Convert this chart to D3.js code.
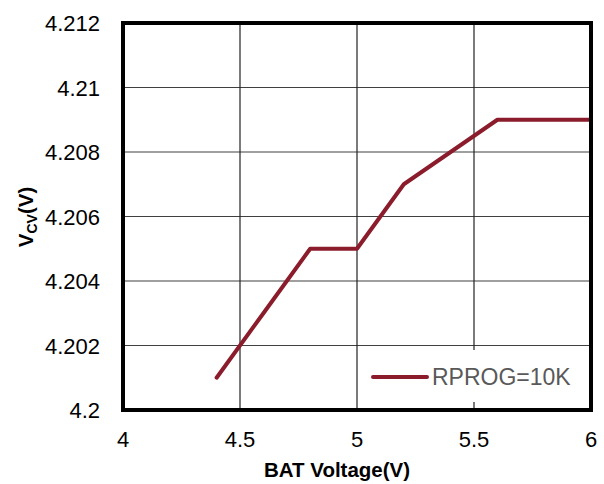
<!DOCTYPE html>
<html><head><meta charset="utf-8">
<script src="https://cdn.jsdelivr.net/npm/d3@7"></script>
<style>body{margin:0;background:#fff}svg{display:block;font-family:"Liberation Sans",Arial,sans-serif}</style>
</head><body><svg id="c" width="604" height="484"></svg>
<script>
const batVoltage = [4.4, 4.6, 4.8, 5.0, 5.2, 5.4, 5.6, 5.8, 6.0];
const vcv = [4.201, 4.203, 4.205, 4.205, 4.207, 4.208, 4.209, 4.209, 4.209];
const xTicks = [4, 4.5, 5, 5.5, 6];
const yTicks = [4.2, 4.202, 4.204, 4.206, 4.208, 4.21, 4.212];
const seriesName = "RPROG=10K";

const svg = d3.select("#c");
const L = 123, R = 591, T = 23, B = 410;
const x = d3.scaleLinear().domain([4, 6]).range([L, R]);
const y = d3.scaleLinear().domain([4.2, 4.212]).range([B, T]);

// grid
svg.append("g").selectAll("line").data(yTicks.slice(1, -1)).join("line")
  .attr("x1", L).attr("x2", R).attr("y1", d => y(d)).attr("y2", d => y(d))
  .attr("stroke", "#404040").attr("stroke-width", 1.2);
svg.append("g").selectAll("line").data(xTicks.slice(1, -1)).join("line")
  .attr("y1", T).attr("y2", B).attr("x1", d => x(d)).attr("x2", d => x(d))
  .attr("stroke", "#222").attr("stroke-width", 1.2);

// data line
const line = d3.line().x((d, i) => x(batVoltage[i])).y(d => y(d));
svg.append("path").datum(vcv).attr("d", line).attr("fill", "none")
  .attr("stroke", "#8B1C2C").attr("stroke-width", 4).attr("stroke-linejoin", "round").attr("stroke-linecap", "round");

// legend
svg.append("rect").attr("x", 361).attr("y", 350).attr("width", 226).attr("height", 52).attr("fill", "#fff");
svg.append("line").attr("x1", 373).attr("x2", 427).attr("y1", 377).attr("y2", 377)
  .attr("stroke", "#8B1C2C").attr("stroke-width", 4).attr("stroke-linecap", "round");
svg.append("text").attr("x", 432).attr("y", 385).attr("font-size", 23).attr("fill", "#595959").text(seriesName);

// border
svg.append("rect").attr("x", L).attr("y", T).attr("width", R - L).attr("height", B - T)
  .attr("fill", "none").attr("stroke", "#000").attr("stroke-width", 4);

// axes labels
const fmtY = d => d3.format(".3f")(d).replace(/0+$/, "").replace(/\.$/, "");
svg.append("g").selectAll("text").data(yTicks).join("text")
  .attr("x", 100).attr("y", d => y(d) + 8).attr("text-anchor", "end").attr("font-size", 22).attr("fill", "#000")
  .text(fmtY);
svg.append("g").selectAll("text").data(xTicks).join("text")
  .attr("x", d => x(d)).attr("y", 447).attr("text-anchor", "middle").attr("font-size", 22).attr("fill", "#000")
  .text(d => String(d));

svg.append("text").attr("x", 337).attr("y", 477).attr("text-anchor", "middle")
  .attr("font-size", 20.5).attr("font-weight", "bold").text("BAT Voltage(V)");

const yl = svg.append("text").attr("transform", "translate(33,217) rotate(-90)").attr("text-anchor", "middle")
  .attr("font-size", 20.5).attr("font-weight", "bold");
yl.append("tspan").text("V");
yl.append("tspan").attr("font-size", 14).attr("dy", 4).text("CV");
yl.append("tspan").attr("dy", -4).text("(V)");
</script></body></html>
